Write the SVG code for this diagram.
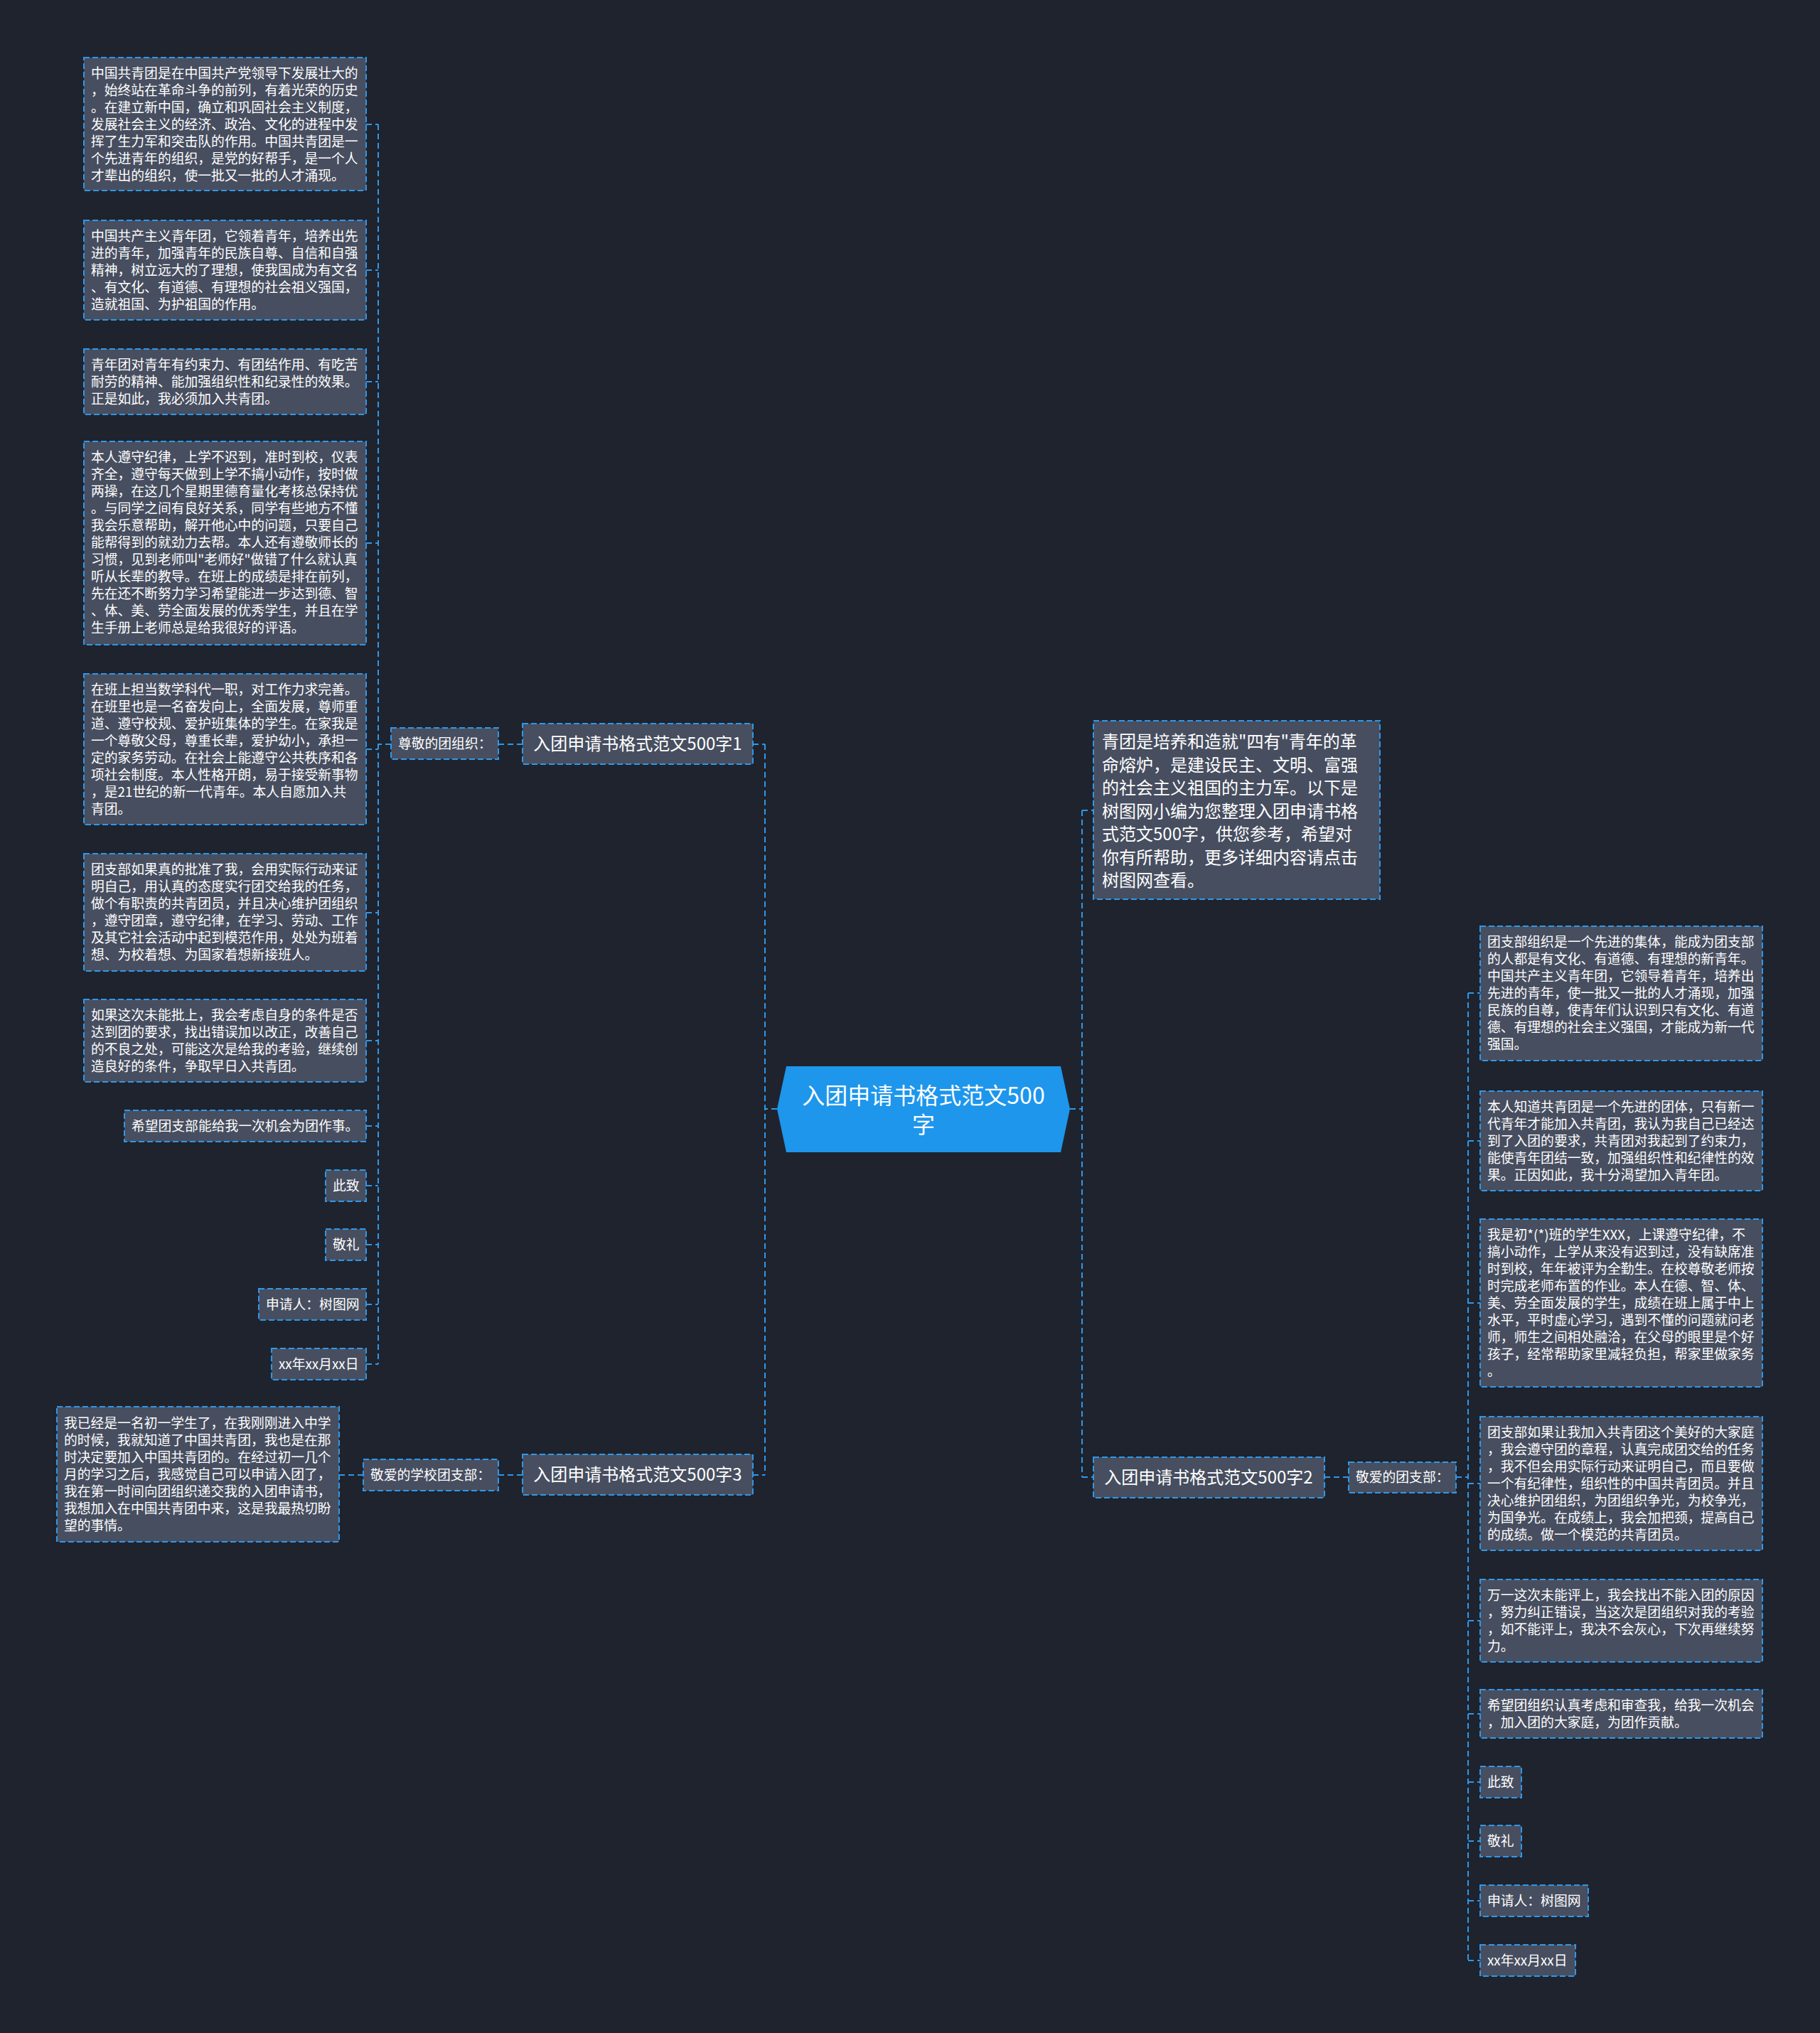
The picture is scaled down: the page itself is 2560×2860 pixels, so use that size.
<svg xmlns="http://www.w3.org/2000/svg" width="2560" height="2860" viewBox="0 0 2560 2860">
<style>
.bg{fill:#1f232e}
.box{fill:#474e5f;stroke:#2e98ea;stroke-width:2;stroke-dasharray:8 4}
.t{font-family:"Noto Sans CJK SC","Microsoft YaHei",sans-serif;fill:#ffffff;font-size:18.8px}
.bt{font-family:"Noto Sans CJK SC","Microsoft YaHei",sans-serif;fill:#ffffff;font-size:24px;text-anchor:middle}
.it{font-family:"Noto Sans CJK SC","Microsoft YaHei",sans-serif;fill:#ffffff;font-size:24px}
.ct{font-family:"Noto Sans CJK SC","Microsoft YaHei",sans-serif;fill:#ffffff;font-size:32px;text-anchor:middle}
.edge{fill:none;stroke:#2e98ea;stroke-width:2;stroke-dasharray:8 5}
</style>
<rect class="bg" x="0" y="0" width="2560" height="2860"/>

<g id="connectors">
<path class="edge" d="M1093,1560 H1076"/>
<path class="edge" d="M1505,1560 H1522"/>
<path class="edge" d="M1076,1047 V2075"/>
<path class="edge" d="M1522,1140 V2078"/>
<path class="edge" d="M1059,1047 H1076"/>
<path class="edge" d="M735,1047 H701"/>
<path class="edge" d="M550,1047 H532"/>
<path class="edge" d="M532,175 V1919"/>
<path class="edge" d="M515,175 H532 M515,380 H532 M515,537 H532 M515,764 H532 M515,1054 H532 M515,1284 H532 M515,1464 H532 M515,1584 H532 M515,1668 H532 M515,1751 H532 M515,1835 H532 M515,1919 H532"/>
<path class="edge" d="M1059,2075 H1076"/>
<path class="edge" d="M735,2075 H701"/>
<path class="edge" d="M511,2075 H477"/>
<path class="edge" d="M1522,1140 H1538"/>
<path class="edge" d="M1522,2078 H1538"/>
<path class="edge" d="M1863,2078 H1897"/>
<path class="edge" d="M2048,2078 H2065"/>
<path class="edge" d="M2065,1397 V2758"/>
<path class="edge" d="M2065,1397 H2082 M2065,1605 H2082 M2065,1833 H2082 M2065,2087 H2082 M2065,2280 H2082 M2065,2411 H2082 M2065,2507 H2082 M2065,2590 H2082 M2065,2674 H2082 M2065,2758 H2082"/>
</g>

<g id="center">
<polygon points="1093,1560 1106,1500 1492,1500 1505,1560 1492,1621 1106,1621" fill="#1d96ec"/>
<text class="ct" x="1299" y="1553">入团申请书格式范文500</text>
<text class="ct" x="1299" y="1594">字</text>
</g>

<g id="branch1">
<rect class="box" x="735" y="1018" width="324" height="57"/>
<text class="bt" x="897" y="1055">入团申请书格式范文500字1</text>
</g>
<g id="label1">
<rect class="box" x="550" y="1024" width="151" height="44"/>
<text class="t" x="560" y="1053">尊敬的团组织：</text>
</g>

<g id="L1">
<rect class="box" x="118" y="81" width="397" height="187"/>
<text class="t" x="128" y="110"><tspan x="128" dy="0">中国共青团是在中国共产党领导下发展壮大的</tspan><tspan x="128" dy="24">，始终站在革命斗争的前列，有着光荣的历史</tspan><tspan x="128" dy="24">。在建立新中国，确立和巩固社会主义制度，</tspan><tspan x="128" dy="24">发展社会主义的经济、政治、文化的进程中发</tspan><tspan x="128" dy="24">挥了生力军和突击队的作用。中国共青团是一</tspan><tspan x="128" dy="24">个先进青年的组织，是党的好帮手，是一个人</tspan><tspan x="128" dy="24">才辈出的组织，使一批又一批的人才涌现。</tspan></text>
</g>
<g id="L2">
<rect class="box" x="118" y="310" width="397" height="140"/>
<text class="t" x="128" y="339"><tspan x="128" dy="0">中国共产主义青年团，它领着青年，培养出先</tspan><tspan x="128" dy="24">进的青年，加强青年的民族自尊、自信和自强</tspan><tspan x="128" dy="24">精神，树立远大的了理想，使我国成为有文名</tspan><tspan x="128" dy="24">、有文化、有道德、有理想的社会祖义强国，</tspan><tspan x="128" dy="24">造就祖国、为护祖国的作用。</tspan></text>
</g>
<g id="L3">
<rect class="box" x="118" y="491" width="397" height="92"/>
<text class="t" x="128" y="520"><tspan x="128" dy="0">青年团对青年有约束力、有团结作用、有吃苦</tspan><tspan x="128" dy="24">耐劳的精神、能加强组织性和纪录性的效果。</tspan><tspan x="128" dy="24">正是如此，我必须加入共青团。</tspan></text>
</g>
<g id="L4">
<rect class="box" x="118" y="621" width="397" height="286"/>
<text class="t" x="128" y="650"><tspan x="128" dy="0">本人遵守纪律，上学不迟到，准时到校，仪表</tspan><tspan x="128" dy="24">齐全，遵守每天做到上学不搞小动作，按时做</tspan><tspan x="128" dy="24">两操，在这几个星期里德育量化考核总保持优</tspan><tspan x="128" dy="24">。与同学之间有良好关系，同学有些地方不懂</tspan><tspan x="128" dy="24">我会乐意帮助，解开他心中的问题，只要自己</tspan><tspan x="128" dy="24">能帮得到的就劲力去帮。本人还有遵敬师长的</tspan><tspan x="128" dy="24">习惯，见到老师叫"老师好"做错了什么就认真</tspan><tspan x="128" dy="24">听从长辈的教导。在班上的成绩是排在前列，</tspan><tspan x="128" dy="24">先在还不断努力学习希望能进一步达到德、智</tspan><tspan x="128" dy="24">、体、美、劳全面发展的优秀学生，并且在学</tspan><tspan x="128" dy="24">生手册上老师总是给我很好的评语。</tspan></text>
</g>
<g id="L5">
<rect class="box" x="118" y="948" width="397" height="212"/>
<text class="t" x="128" y="977"><tspan x="128" dy="0">在班上担当数学科代一职，对工作力求完善。</tspan><tspan x="128" dy="24">在班里也是一名奋发向上，全面发展，尊师重</tspan><tspan x="128" dy="24">道、遵守校规、爱护班集体的学生。在家我是</tspan><tspan x="128" dy="24">一个尊敬父母，尊重长辈，爱护幼小，承担一</tspan><tspan x="128" dy="24">定的家务劳动。在社会上能遵守公共秩序和各</tspan><tspan x="128" dy="24">项社会制度。本人性格开朗，易于接受新事物</tspan><tspan x="128" dy="24">，是21世纪的新一代青年。本人自愿加入共</tspan><tspan x="128" dy="24">青团。</tspan></text>
</g>
<g id="L6">
<rect class="box" x="118" y="1201" width="397" height="165"/>
<text class="t" x="128" y="1230"><tspan x="128" dy="0">团支部如果真的批准了我，会用实际行动来证</tspan><tspan x="128" dy="24">明自己，用认真的态度实行团交给我的任务，</tspan><tspan x="128" dy="24">做个有职责的共青团员，并且决心维护团组织</tspan><tspan x="128" dy="24">，遵守团章，遵守纪律，在学习、劳动、工作</tspan><tspan x="128" dy="24">及其它社会活动中起到模范作用，处处为班着</tspan><tspan x="128" dy="24">想、为校着想、为国家着想新接班人。</tspan></text>
</g>
<g id="L7">
<rect class="box" x="118" y="1406" width="397" height="116"/>
<text class="t" x="128" y="1435"><tspan x="128" dy="0">如果这次未能批上，我会考虑自身的条件是否</tspan><tspan x="128" dy="24">达到团的要求，找出错误加以改正，改善自己</tspan><tspan x="128" dy="24">的不良之处，可能这次是给我的考验，继续创</tspan><tspan x="128" dy="24">造良好的条件，争取早日入共青团。</tspan></text>
</g>
<g id="L8">
<rect class="box" x="175" y="1562" width="340" height="44"/>
<text class="t" x="185" y="1591">希望团支部能给我一次机会为团作事。</text>
</g>
<g id="L9">
<rect class="box" x="458" y="1646" width="57" height="44"/>
<text class="t" x="468" y="1675">此致</text>
</g>
<g id="L10">
<rect class="box" x="458" y="1729" width="57" height="44"/>
<text class="t" x="468" y="1758">敬礼</text>
</g>
<g id="L11">
<rect class="box" x="364" y="1813" width="151" height="44"/>
<text class="t" x="374" y="1842">申请人：树图网</text>
</g>
<g id="L12">
<rect class="box" x="382" y="1897" width="133" height="44"/>
<text class="t" x="392" y="1926">xx年xx月xx日</text>
</g>

<g id="branch3">
<rect class="box" x="735" y="2046" width="324" height="57"/>
<text class="bt" x="897" y="2083">入团申请书格式范文500字3</text>
</g>
<g id="label3">
<rect class="box" x="511" y="2053" width="190" height="44"/>
<text class="t" x="521" y="2082">敬爱的学校团支部：</text>
</g>
<g id="B3L1">
<rect class="box" x="80" y="1979" width="397" height="190"/>
<text class="t" x="90" y="2009"><tspan x="90" dy="0">我已经是一名初一学生了，在我刚刚进入中学</tspan><tspan x="90" dy="24">的时候，我就知道了中国共青团，我也是在那</tspan><tspan x="90" dy="24">时决定要加入中国共青团的。在经过初一几个</tspan><tspan x="90" dy="24">月的学习之后，我感觉自己可以申请入团了，</tspan><tspan x="90" dy="24">我在第一时间向团组织递交我的入团申请书，</tspan><tspan x="90" dy="24">我想加入在中国共青团中来，这是我最热切盼</tspan><tspan x="90" dy="24">望的事情。</tspan></text>
</g>

<g id="intro">
<rect class="box" x="1538" y="1014" width="403" height="251"/>
<text class="it" x="1550" y="1052"><tspan x="1550" dy="0">青团是培养和造就"四有"青年的革</tspan><tspan x="1550" dy="32.5">命熔炉，是建设民主、文明、富强</tspan><tspan x="1550" dy="32.5">的社会主义祖国的主力军。以下是</tspan><tspan x="1550" dy="32.5">树图网小编为您整理入团申请书格</tspan><tspan x="1550" dy="32.5">式范文500字，供您参考，希望对</tspan><tspan x="1550" dy="32.5">你有所帮助，更多详细内容请点击</tspan><tspan x="1550" dy="32.5">树图网查看。</tspan></text>
</g>

<g id="branch2">
<rect class="box" x="1538" y="2050" width="325" height="57"/>
<text class="bt" x="1700" y="2087">入团申请书格式范文500字2</text>
</g>
<g id="label2">
<rect class="box" x="1897" y="2057" width="151" height="43"/>
<text class="t" x="1907" y="2085">敬爱的团支部：</text>
</g>

<g id="R1">
<rect class="box" x="2082" y="1303" width="397" height="189"/>
<text class="t" x="2092" y="1332"><tspan x="2092" dy="0">团支部组织是一个先进的集体，能成为团支部</tspan><tspan x="2092" dy="24">的人都是有文化、有道德、有理想的新青年。</tspan><tspan x="2092" dy="24">中国共产主义青年团，它领导着青年，培养出</tspan><tspan x="2092" dy="24">先进的青年，使一批又一批的人才涌现，加强</tspan><tspan x="2092" dy="24">民族的自尊，使青年们认识到只有文化、有道</tspan><tspan x="2092" dy="24">德、有理想的社会主义强国，才能成为新一代</tspan><tspan x="2092" dy="24">强国。</tspan></text>
</g>
<g id="R2">
<rect class="box" x="2082" y="1535" width="397" height="140"/>
<text class="t" x="2092" y="1564"><tspan x="2092" dy="0">本人知道共青团是一个先进的团体，只有新一</tspan><tspan x="2092" dy="24">代青年才能加入共青团，我认为我自己已经达</tspan><tspan x="2092" dy="24">到了入团的要求，共青团对我起到了约束力，</tspan><tspan x="2092" dy="24">能使青年团结一致，加强组织性和纪律性的效</tspan><tspan x="2092" dy="24">果。正因如此，我十分渴望加入青年团。</tspan></text>
</g>
<g id="R3">
<rect class="box" x="2082" y="1715" width="397" height="236"/>
<text class="t" x="2092" y="1744"><tspan x="2092" dy="0">我是初*(*)班的学生XXX，上课遵守纪律，不</tspan><tspan x="2092" dy="24">搞小动作，上学从来没有迟到过，没有缺席准</tspan><tspan x="2092" dy="24">时到校，年年被评为全勤生。在校尊敬老师按</tspan><tspan x="2092" dy="24">时完成老师布置的作业。本人在德、智、体、</tspan><tspan x="2092" dy="24">美、劳全面发展的学生，成绩在班上属于中上</tspan><tspan x="2092" dy="24">水平，平时虚心学习，遇到不懂的问题就问老</tspan><tspan x="2092" dy="24">师，师生之间相处融洽，在父母的眼里是个好</tspan><tspan x="2092" dy="24">孩子，经常帮助家里减轻负担，帮家里做家务</tspan><tspan x="2092" dy="24">。</tspan></text>
</g>
<g id="R4">
<rect class="box" x="2082" y="1993" width="397" height="188"/>
<text class="t" x="2092" y="2022"><tspan x="2092" dy="0">团支部如果让我加入共青团这个美好的大家庭</tspan><tspan x="2092" dy="24">，我会遵守团的章程，认真完成团交给的任务</tspan><tspan x="2092" dy="24">，我不但会用实际行动来证明自己，而且要做</tspan><tspan x="2092" dy="24">一个有纪律性，组织性的中国共青团员。并且</tspan><tspan x="2092" dy="24">决心维护团组织，为团组织争光，为校争光，</tspan><tspan x="2092" dy="24">为国争光。在成绩上，我会加把颈，提高自己</tspan><tspan x="2092" dy="24">的成绩。做一个模范的共青团员。</tspan></text>
</g>
<g id="R5">
<rect class="box" x="2082" y="2222" width="397" height="116"/>
<text class="t" x="2092" y="2251"><tspan x="2092" dy="0">万一这次未能评上，我会找出不能入团的原因</tspan><tspan x="2092" dy="24">，努力纠正错误，当这次是团组织对我的考验</tspan><tspan x="2092" dy="24">，如不能评上，我决不会灰心，下次再继续努</tspan><tspan x="2092" dy="24">力。</tspan></text>
</g>
<g id="R6">
<rect class="box" x="2082" y="2377" width="397" height="68"/>
<text class="t" x="2092" y="2406"><tspan x="2092" dy="0">希望团组织认真考虑和审查我，给我一次机会</tspan><tspan x="2092" dy="24">，加入团的大家庭，为团作贡献。</tspan></text>
</g>
<g id="R7">
<rect class="box" x="2082" y="2485" width="58" height="44"/>
<text class="t" x="2092" y="2514">此致</text>
</g>
<g id="R8">
<rect class="box" x="2082" y="2568" width="58" height="44"/>
<text class="t" x="2092" y="2597">敬礼</text>
</g>
<g id="R9">
<rect class="box" x="2082" y="2652" width="152" height="44"/>
<text class="t" x="2092" y="2681">申请人：树图网</text>
</g>
<g id="R10">
<rect class="box" x="2082" y="2736" width="134" height="44"/>
<text class="t" x="2092" y="2765">xx年xx月xx日</text>
</g>
</svg>
